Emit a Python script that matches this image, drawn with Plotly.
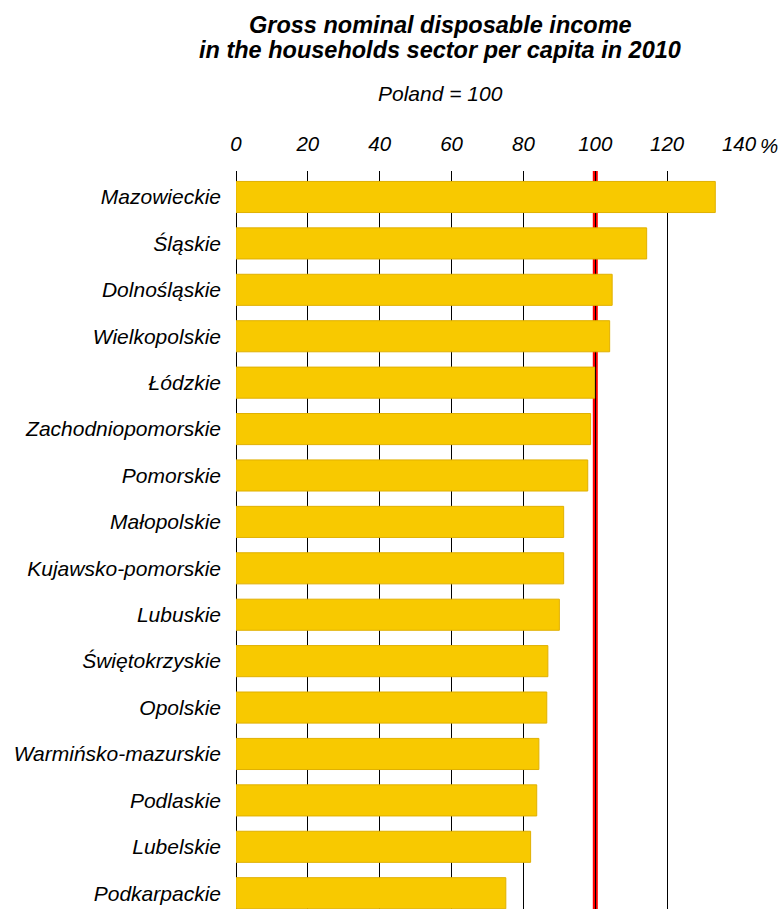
import plotly.graph_objects as go

regions = ["Mazowieckie", "Śląskie", "Dolnośląskie", "Wielkopolskie", "Łódzkie",
           "Zachodniopomorskie", "Pomorskie", "Małopolskie", "Kujawsko-pomorskie",
           "Lubuskie", "Świętokrzyskie", "Opolskie", "Warmińsko-mazurskie",
           "Podlaskie", "Lubelskie", "Podkarpackie"]
values = [133.4, 114.3, 104.7, 104.0, 99.8, 98.7, 97.9, 91.2, 91.2,
          90.0, 86.8, 86.5, 84.3, 83.7, 82.0, 75.1]
tick_vals = [0, 20, 40, 60, 80, 100, 120, 140]
tick_text = ["0", "20", "40", "60", "80", "100", "120", "140"]
unit_label = "%"
poland_level = 100

FONT = "Liberation Sans, Arial, sans-serif"

W, H = 782, 909
L, R, T, B = 236, 43, 171, 0

fig = go.Figure()
fig.add_trace(go.Bar(
    y=regions, x=values, orientation="h",
    width=0.67,
    marker=dict(color="#F8C900", line=dict(color="#E0B000", width=1)),
    hoverinfo="x+y",
))

fig.add_shape(type="line", xref="x", yref="paper", x0=poland_level, x1=poland_level,
              y0=0, y1=1, line=dict(color="#FF0000", width=5), layer="between")

title_font = dict(family=FONT, size=23.5, style="italic", color="black")
cx = (440 - L) / (W - L - R)

fig.update_layout(
    width=W, height=H,
    margin=dict(l=L, r=R, t=T, b=B),
    paper_bgcolor="white", plot_bgcolor="white",
    showlegend=False,
    font=dict(family=FONT, color="black"),
    xaxis=dict(
        side="top", range=[0, 140], tickvals=tick_vals, ticktext=tick_text,
        showgrid=True, gridcolor="black", gridwidth=1,
        zeroline=True, zerolinecolor="black", zerolinewidth=1,
        showline=False, ticks="",
        tickfont=dict(family=FONT, size=20.5, style="italic", color="black"),
        ticklabelstandoff=15,
    ),
    yaxis=dict(
        type="category", categoryorder="array", categoryarray=regions,
        range=[15.34, -0.56],
        showgrid=False, zeroline=False, showline=False, ticks="",
        tickfont=dict(family=FONT, size=21, style="italic", color="black"),
        ticklabelstandoff=14,
    ),
    annotations=[
        dict(text="<b>Gross nominal disposable income</b>",
             xref="paper", yref="paper", x=cx, y=1, yshift=146,
             xanchor="center", yanchor="middle", showarrow=False, font=title_font),
        dict(text="<b>in the households sector per capita in 2010</b>",
             xref="paper", yref="paper", x=cx, y=1, yshift=121,
             xanchor="center", yanchor="middle", showarrow=False, font=title_font),
        dict(text="Poland = 100", xref="paper", yref="paper", x=cx, y=1, yshift=78,
             xanchor="center", yanchor="middle", showarrow=False,
             font=dict(family=FONT, size=21, style="italic", color="black")),
        dict(text=unit_label, xref="x", yref="paper", x=140, y=1, xshift=29.5, yshift=26,
             xanchor="center", yanchor="middle", showarrow=False,
             font=dict(family=FONT, size=20.5, style="italic", color="black")),
    ],
)

fig.write_html(
    "out.html",
    config={"displayModeBar": False},
    post_script="document.body.style.margin='0';document.body.style.overflow='hidden';",
)
